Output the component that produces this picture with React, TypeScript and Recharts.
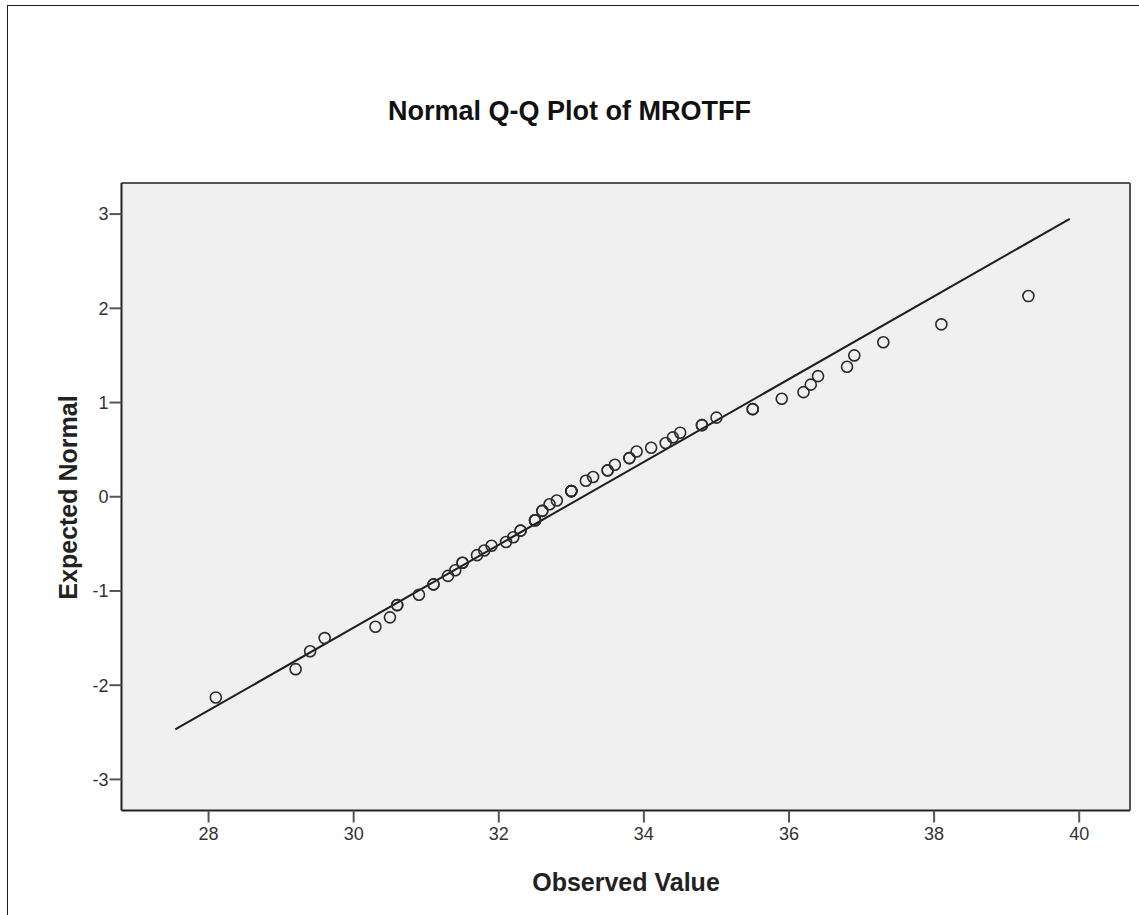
import React from 'react';
import { ScatterChart, Scatter, XAxis, YAxis, CartesianGrid, ReferenceLine } from 'recharts';

// Observed MROTFF values (ties repeated) and their expected normal scores
const observedValues = [
  28.1, 29.2, 29.4, 29.6, 30.3, 30.5, 30.6, 30.6, 30.9, 31.1,
  31.1, 31.3, 31.4, 31.5, 31.5, 31.7, 31.8, 31.9, 32.1, 32.2,
  32.3, 32.3, 32.5, 32.5, 32.5, 32.6, 32.6, 32.7, 32.8, 33.0,
  33.0, 33.0, 33.0, 33.2, 33.3, 33.5, 33.5, 33.6, 33.8, 33.8,
  33.9, 34.1, 34.3, 34.4, 34.5, 34.8, 34.8, 35.0, 35.5, 35.5,
  35.9, 36.2, 36.3, 36.4, 36.8, 36.9, 37.3, 38.1, 39.3,
];

const expectedNormal = [
  -2.13, -1.83, -1.64, -1.5, -1.38, -1.28, -1.15, -1.15, -1.04, -0.93,
  -0.93, -0.84, -0.78, -0.7, -0.7, -0.62, -0.57, -0.52, -0.48, -0.43,
  -0.36, -0.36, -0.25, -0.25, -0.25, -0.15, -0.15, -0.08, -0.04, 0.06,
  0.06, 0.06, 0.06, 0.17, 0.21, 0.28, 0.28, 0.34, 0.41, 0.41,
  0.48, 0.52, 0.57, 0.63, 0.68, 0.76, 0.76, 0.84, 0.93, 0.93,
  1.04, 1.11, 1.19, 1.28, 1.38, 1.5, 1.64, 1.83, 2.13,
];

const xTicks = [28, 30, 32, 34, 36, 38, 40];
const yTicks = [-3, -2, -1, 0, 1, 2, 3];
const xDomain = [26.8, 40.7];
const yDomain = [-3.33, 3.33];

// End points of the normal reference line
const refLineX = [27.54, 39.87];
const refLineY = [-2.47, 2.95];

const points = observedValues.map((x, i) => ({ x, y: expectedNormal[i] }));

const FONT = '"Liberation Sans", Arial, sans-serif';

const Ring = (props: any) => (
  <circle cx={props.cx} cy={props.cy} r={5.5} fill="none" stroke="#2b2b2b" strokeWidth={1.6} />
);

const tickStyle = { fontFamily: FONT, fontSize: 18, fill: '#333' };

export default function App() {
  return (
    <div
      style={{
        position: 'fixed',
        left: 0,
        top: 0,
        width: 1139,
        height: 915,
        overflow: 'hidden',
        background: '#fff',
        fontFamily: FONT,
      }}
    >
      <div
        style={{
          position: 'absolute',
          left: 7,
          top: 5,
          width: 1300,
          height: 1100,
          borderLeft: '1px solid #1a1a1a',
          borderTop: '1px solid #1a1a1a',
        }}
      />
      <div
        style={{
          position: 'absolute',
          left: 0,
          width: 1139,
          top: 97.5,
          textAlign: 'center',
          fontSize: 27,
          lineHeight: '27px',
          fontWeight: 'bold',
          color: '#111',
        }}
      >
        Normal Q-Q Plot of MROTFF
      </div>
      <div
        style={{
          position: 'absolute',
          left: 426,
          width: 400,
          top: 870,
          textAlign: 'center',
          fontSize: 25,
          lineHeight: '25px',
          fontWeight: 'bold',
          color: '#222',
        }}
      >
        Observed Value
      </div>
      <div
        style={{
          position: 'absolute',
          left: 68 - 200,
          width: 400,
          top: 497 - 12.5,
          textAlign: 'center',
          fontSize: 25,
          lineHeight: '25px',
          fontWeight: 'bold',
          color: '#222',
          transform: 'rotate(-90deg)',
        }}
      >
        Expected Normal
      </div>
      <div style={{ position: 'absolute', left: 0, top: 0 }}>
        <ScatterChart
          width={1139}
          height={915}
          margin={{ top: 183, right: 9, bottom: 44.5, left: 61.5 }}
        >
          <CartesianGrid fill="#f0f0f0" horizontal={false} vertical={false} />
          <XAxis
            dataKey="x"
            type="number"
            domain={xDomain}
            ticks={xTicks}
            allowDataOverflow
            height={60}
            tickSize={12}
            tickMargin={5}
            tick={tickStyle}
            tickLine={{ stroke: '#555', strokeWidth: 2 }}
            axisLine={{ stroke: '#222', strokeWidth: 2 }}
          />
          <YAxis
            dataKey="y"
            type="number"
            domain={yDomain}
            ticks={yTicks}
            allowDataOverflow
            width={60}
            tickSize={12}
            tickMargin={1}
            tick={tickStyle}
            tickLine={{ stroke: '#555', strokeWidth: 2 }}
            axisLine={{ stroke: '#222', strokeWidth: 2 }}
          />
          {/* frame: top and right edges of the plot area */}
          <ReferenceLine y={yDomain[1]} stroke="#555" strokeWidth={2} ifOverflow="visible" />
          <ReferenceLine x={xDomain[1]} stroke="#555" strokeWidth={2} ifOverflow="visible" />
          <ReferenceLine
            segment={[
              { x: refLineX[0], y: refLineY[0] },
              { x: refLineX[1], y: refLineY[1] },
            ]}
            stroke="#1e1e1e"
            strokeWidth={2}
          />
          <Scatter data={points} shape={Ring} isAnimationActive={false} />
        </ScatterChart>
      </div>
    </div>
  );
}
